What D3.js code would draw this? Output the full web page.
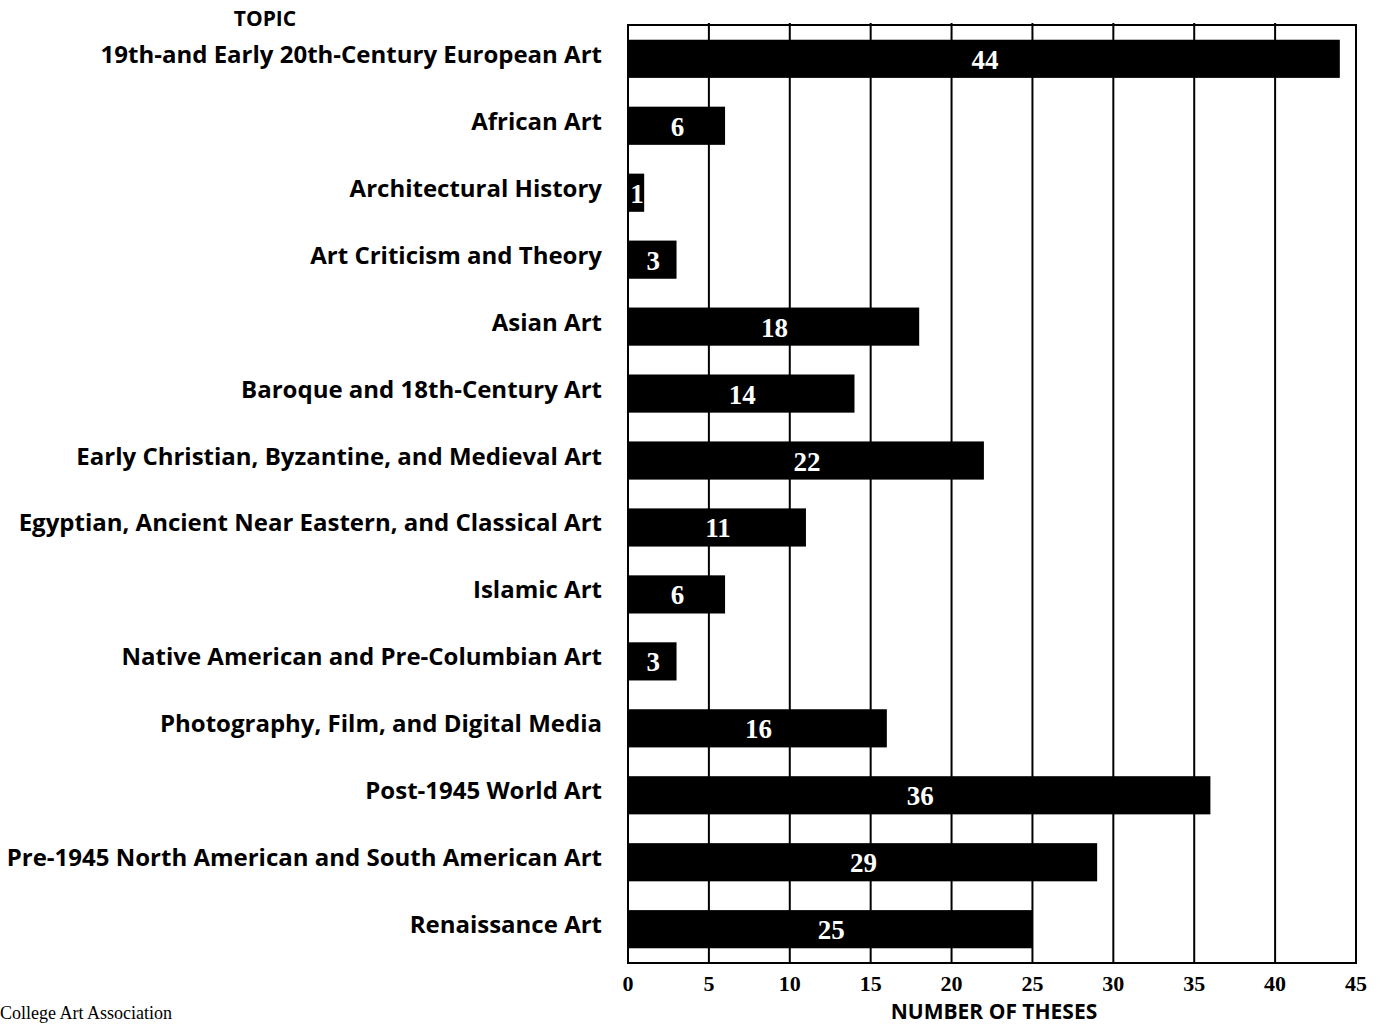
<!DOCTYPE html>
<html>
<head>
<meta charset="utf-8">
<script src="https://cdn.jsdelivr.net/npm/d3@7"></script>
<style>
  html, body { margin: 0; padding: 0; background: #fff; }
  svg { display: block; }
</style>
</head>
<body>
<svg id="chart" width="1385" height="1024"></svg>
<script>
const topics = [
  "19th-and Early 20th-Century European Art",
  "African Art",
  "Architectural History",
  "Art Criticism and Theory",
  "Asian Art",
  "Baroque and 18th-Century Art",
  "Early Christian, Byzantine, and Medieval Art",
  "Egyptian, Ancient Near Eastern, and Classical Art",
  "Islamic Art",
  "Native American and Pre-Columbian Art",
  "Photography, Film, and Digital Media",
  "Post-1945 World Art",
  "Pre-1945 North American and South American Art",
  "Renaissance Art"
];
const theses = [44, 6, 1, 3, 18, 14, 22, 11, 6, 3, 16, 36, 29, 25];
const xTicks = [0, 5, 10, 15, 20, 25, 30, 35, 40, 45];
const axisTitle = "NUMBER OF THESES";
const topicTitle = "TOPIC";
const credit = "College Art Association";

const svg = d3.select("#chart");
const plotL = 628, plotR = 1356, plotT = 25, plotB = 963;

const x = d3.scaleLinear().domain([0, 45]).range([plotL, plotR]);
const y = d3.scaleBand().domain(topics).range([plotT, plotB]).paddingInner(0.43).paddingOuter(0.22);

const sansBold = "'Open Sans', Lato, sans-serif";
const serifBold = "'Liberation Serif', 'Times New Roman', serif";

// grid lines
svg.append("g").selectAll("line").data(xTicks.filter(d => d > 0 && d < 45)).join("line")
  .attr("x1", d => x(d)).attr("x2", d => x(d))
  .attr("y1", plotT - 2).attr("y2", plotB)
  .attr("stroke", "#000").attr("stroke-width", 2);

// frame
svg.append("rect").attr("x", plotL).attr("y", plotT)
  .attr("width", plotR - plotL).attr("height", plotB - plotT)
  .attr("fill", "none").attr("stroke", "#000").attr("stroke-width", 2);

// bars
svg.append("g").selectAll("rect").data(theses).join("rect")
  .attr("x", x(0))
  .attr("y", (d, i) => y(topics[i]))
  .attr("width", d => x(d) - x(0))
  .attr("height", y.bandwidth())
  .attr("fill", "#000");

// value labels
svg.append("g").selectAll("text").data(theses).join("text")
  .attr("x", d => (x(0) + x(d)) / 2 + 1)
  .attr("y", (d, i) => y(topics[i]) + y.bandwidth() / 2 + 10)
  .attr("text-anchor", "middle")
  .attr("fill", "#fff")
  .attr("font-family", serifBold)
  .attr("font-weight", "bold")
  .attr("font-size", 27)
  .text(d => d);

// topic labels
svg.append("g").selectAll("text").data(topics).join("text")
  .attr("x", 602)
  .attr("y", d => y(d) + y.bandwidth() / 2 + 4)
  .attr("text-anchor", "end")
  .attr("fill", "#000")
  .attr("font-family", sansBold)
  .attr("font-weight", "bold")
  .attr("font-size", 24)
  .text(d => d);

// x axis tick labels
svg.append("g").selectAll("text").data(xTicks).join("text")
  .attr("x", d => x(d))
  .attr("y", 991)
  .attr("text-anchor", "middle")
  .attr("font-family", serifBold)
  .attr("font-weight", "bold")
  .attr("font-size", 22)
  .text(d => d);

svg.append("text")
  .attr("x", 994).attr("y", 1019)
  .attr("text-anchor", "middle")
  .attr("font-family", sansBold).attr("font-weight", "bold").attr("font-size", 21)
  .text(axisTitle);

svg.append("text")
  .attr("x", 265).attr("y", 26)
  .attr("text-anchor", "middle")
  .attr("font-family", sansBold).attr("font-weight", "bold").attr("font-size", 21)
  .text(topicTitle);

svg.append("text")
  .attr("x", 0).attr("y", 1019)
  .attr("font-family", "'Liberation Serif', serif").attr("font-size", 18)
  .text(credit);
</script>
</body>
</html>
